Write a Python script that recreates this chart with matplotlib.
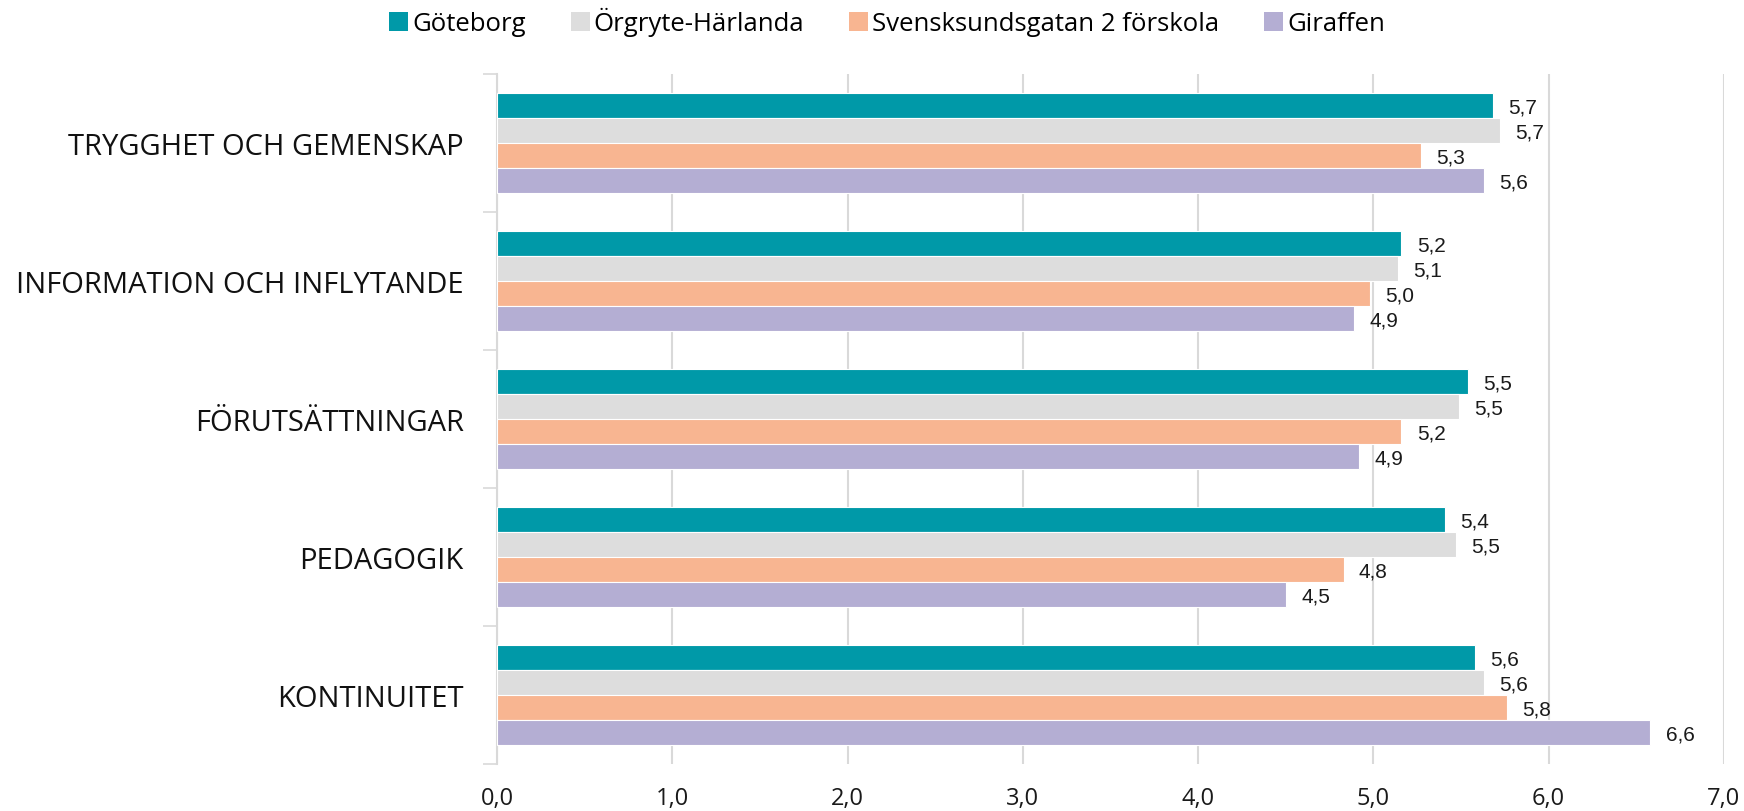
import numpy as np
import matplotlib
matplotlib.use("Agg")
import matplotlib.pyplot as plt
from matplotlib.patches import Patch

categories = ["TRYGGHET OCH GEMENSKAP", "INFORMATION OCH INFLYTANDE",
              "FÖRUTSÄTTNINGAR", "PEDAGOGIK", "KONTINUITET"]
series_names = ["Göteborg", "Örgryte-Härlanda", "Svensksundsgatan 2 förskola", "Giraffen"]
goteborg = [5.68, 5.16, 5.54, 5.41, 5.58]
orgryte = [5.72, 5.14, 5.49, 5.47, 5.63]
svensksund = [5.27, 4.98, 5.16, 4.83, 5.76]
giraffen = [5.63, 4.89, 4.92, 4.50, 6.58]
x_ticks = [0, 1, 2, 3, 4, 5, 6, 7]

series = [goteborg, orgryte, svensksund, giraffen]
colors = ["#0099A8", "#DDDDDD", "#F8B591", "#B4AED3"]

fig = plt.figure(figsize=(17.44, 8.12), dpi=100)
ax = fig.add_axes([0.285, 0.058, 0.7035, 0.8496])

y = np.arange(len(categories))
h = 0.18
for i, (vals, col) in enumerate(zip(series, colors)):
    pos = y + (i - 1.5) * h
    bars = ax.barh(pos, vals, height=h, color=col, edgecolor="white", linewidth=0.8, zorder=3)
    for b, v in zip(bars, vals):
        ax.annotate(f"{v:.1f}".replace(".", ","),
                    (b.get_width(), b.get_y() + b.get_height() / 2),
                    xytext=(11, -1), textcoords="offset points",
                    ha="left", va="center", fontsize=15,
                    family="Liberation Sans", color="#1a1a1a")

ax.set_xlim(0, 7)
ax.set_ylim(4.5, -0.5)
ax.set_xticks(x_ticks)
ax.set_xticklabels([f"{t:.1f}".replace(".", ",") for t in x_ticks],
                   family="Open Sans", fontsize=17, color="#1a1a1a")
ax.tick_params(axis="x", length=0, pad=16)
ax.grid(axis="x", color="#D9D9D9", linewidth=1.5, zorder=0)

ax.set_yticks(y)
ax.set_yticklabels(categories, family="Open Sans", fontsize=21, color="#111111")
ax.set_yticks(np.arange(-0.5, len(categories)), minor=True)
ax.tick_params(axis="y", which="major", length=0, pad=24)
ax.tick_params(axis="y", which="minor", length=10, color="#D9D9D9", width=1.2)

for s in ["top", "right", "bottom"]:
    ax.spines[s].set_visible(False)
ax.spines["left"].set_color("#D9D9D9")
ax.spines["left"].set_linewidth(1.5)

handles = [Patch(facecolor=c, edgecolor="none") for c in colors]
fig.legend(handles, series_names, loc="center", bbox_to_anchor=(0.5086, 0.972),
           ncol=4, frameon=False, handlelength=0.74, handleheight=0.74,
           handletextpad=0.15, columnspacing=1.75, borderpad=0,
           prop={"family": "Open Sans", "size": 18.5})

fig.savefig("out.png", dpi=100, facecolor="white")
